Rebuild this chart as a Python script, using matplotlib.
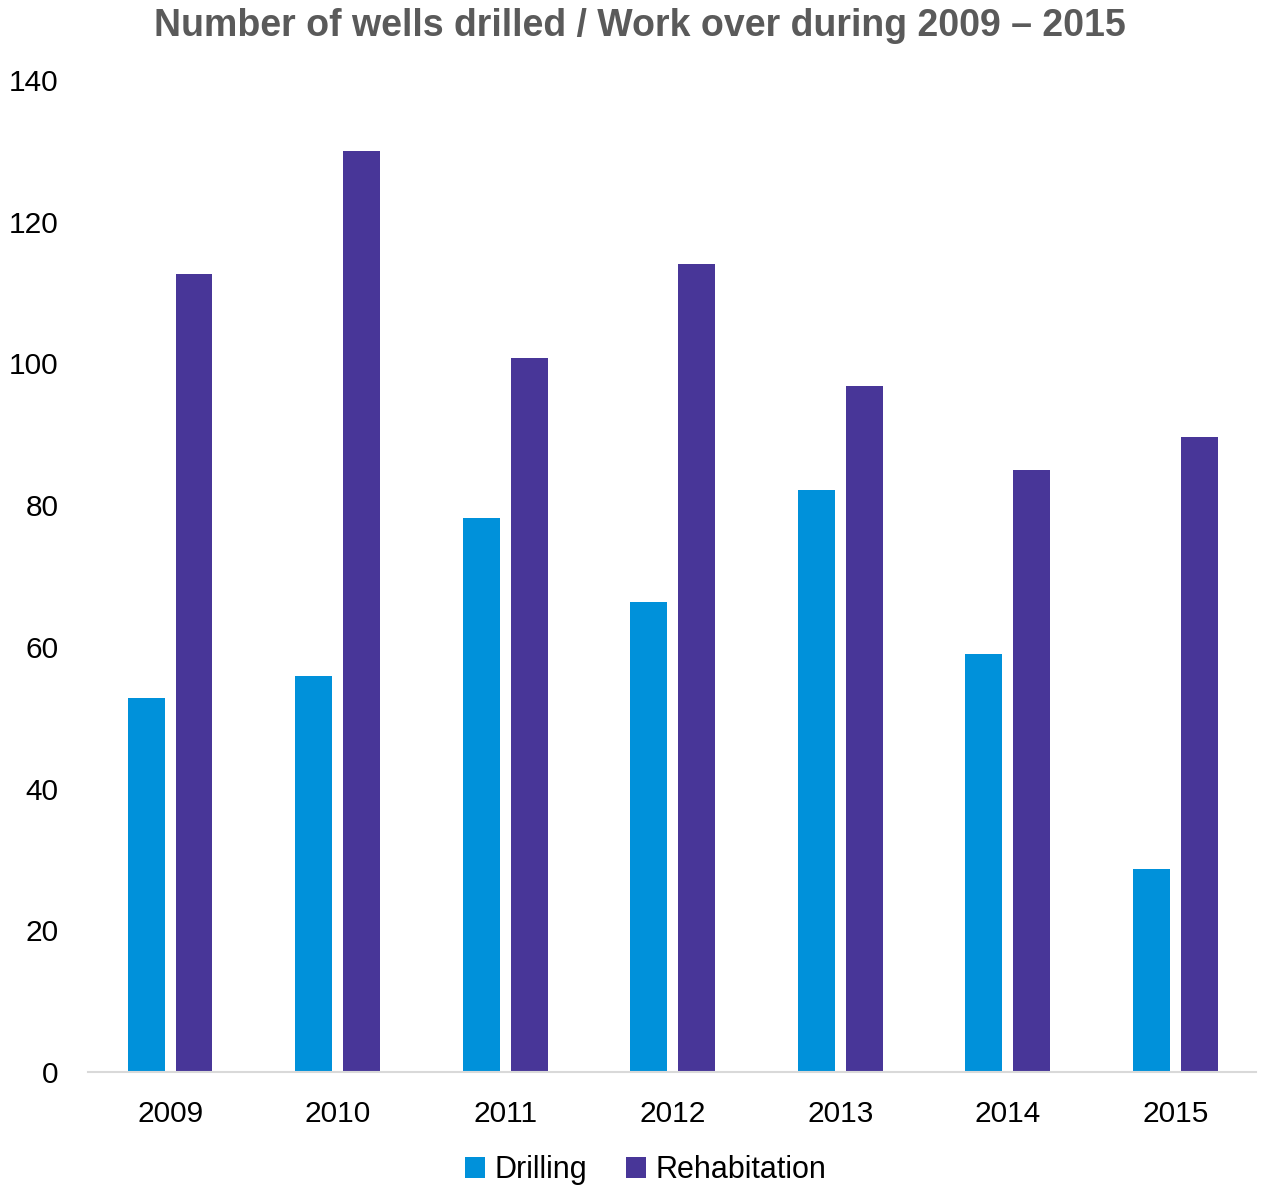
import numpy as np
import matplotlib.pyplot as plt

plt.rcParams['font.family'] = ['Liberation Sans', 'DejaVu Sans']

years = ['2009', '2010', '2011', '2012', '2013', '2014', '2015']
drilling = [52.8, 55.9, 78.2, 66.3, 82.2, 59.0, 28.7]
rehabitation = [112.6, 130.0, 100.7, 114.0, 96.8, 85.0, 89.6]

blue = '#0091DA'
purple = '#483698'

fig = plt.figure(figsize=(12.66, 11.88), dpi=100)
ax = fig.add_axes([0.0695, 0.0976, 0.9225, 0.8351])

x = np.arange(len(years))
bar_width = 0.22
offset = 0.143

ax.bar(x - offset, drilling, width=bar_width, color=blue, label='Drilling')
ax.bar(x + offset, rehabitation, width=bar_width, color=purple, label='Rehabitation')

ax.set_xlim(-0.49, 6.48)
ax.set_ylim(0, 140)
ax.set_yticks(range(0, 141, 20))
ax.set_xticks(x)
ax.set_xticklabels(years)

for side in ['top', 'right', 'left']:
    ax.spines[side].set_visible(False)
ax.spines['bottom'].set_color('#d9d9d9')
ax.spines['bottom'].set_linewidth(1.5)

ax.tick_params(axis='both', length=0, labelsize=21.5, colors='black')
ax.tick_params(axis='y', pad=21)
ax.tick_params(axis='x', pad=20)

fig.text(0.5055, 0.978, 'Number of wells drilled / Work over during 2009 \u2013 2015',
         ha='center', va='center', fontsize=27, fontweight='bold', color='#5a5a5a')

fig.legend(loc='center', bbox_to_anchor=(0.51, 0.015), ncol=2, frameon=False,
           fontsize=22, handlelength=0.65, handleheight=0.65, handletextpad=0.3,
           columnspacing=1.3)

fig.savefig('out.png', dpi=100)
